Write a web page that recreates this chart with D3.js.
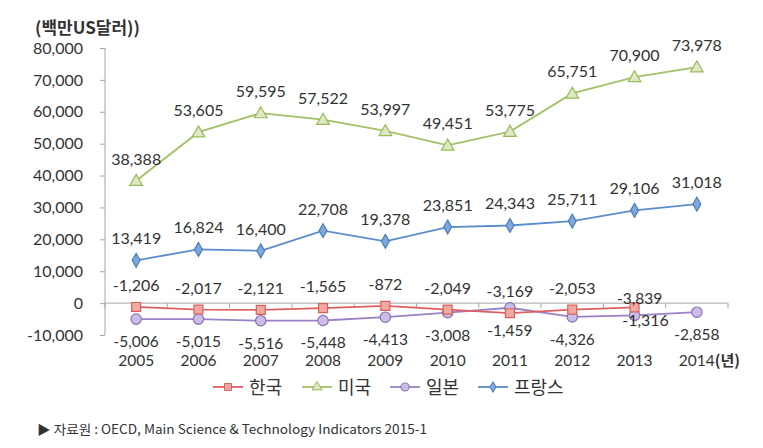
<!DOCTYPE html>
<html><head><meta charset="utf-8">
<script src="https://cdn.jsdelivr.net/npm/d3@7/dist/d3.min.js"></script>
<style>
html,body{margin:0;padding:0;background:#fff;}
svg{display:block;}
</style></head>
<body>
<svg id="chart" width="763" height="448"></svg>
<script>
const years = ["2005","2006","2007","2008","2009","2010","2011","2012","2013","2014"];
const korea = [-1206,-2017,-2121,-1565,-872,-2049,-3169,-2053,-1316,null];
const usa = [38388,53605,59595,57522,53997,49451,53775,65751,70900,73978];
const japan = [-5006,-5015,-5516,-5448,-4413,-3008,-1459,-4326,-3839,-2858];
const france = [13419,16824,16400,22708,19378,23851,24343,25711,29106,31018];
const yTicks = [80000,70000,60000,50000,40000,30000,20000,10000,0,-10000];
const seriesNames = ["한국","미국","일본","프랑스"];

const svg = d3.select("#chart");
const numFont = "Lato, 'Noto Sans', sans-serif";
const krFont = "'Noto Sans CJK KR', 'Noto Sans', sans-serif";
const textColor = "#333";
const axisColor = "#a6a6a6";

const x = d3.scaleBand().domain(years).range([105,728]);
const y = d3.scaleLinear().domain([-10000,80000]).range([335,48]);
const cx = d => x(d) + x.bandwidth()/2;
const locale = d3.formatLocale({decimal:".", thousands:",", grouping:[3], currency:["",""], minus:"-"});
const fmt = locale.format(",");

// Title
svg.append("text").attr("x",35).attr("y",34).attr("font-family",krFont)
  .attr("font-size",17).attr("font-weight","bold").attr("fill",textColor).text("(백만US달러))");

// Y axis
const yAxis = d3.axisLeft(y).tickValues(yTicks).tickSize(5).tickFormat(fmt);
const gy = svg.append("g").attr("transform","translate(105,0)").call(yAxis);
gy.select(".domain").attr("stroke",axisColor).attr("d","M0,"+y(80000)+"V"+y(-10000));
gy.selectAll(".tick line").attr("stroke",axisColor);
gy.selectAll(".tick text").attr("font-family",numFont).attr("font-size",16)
  .attr("fill",textColor).attr("x",-22);

// X axis along zero
const gx = svg.append("g");
gx.append("line").attr("x1",105).attr("x2",728).attr("y1",y(0)).attr("y2",y(0))
  .attr("stroke",axisColor);
const bounds = years.map(d=>x(d)).concat([x(years[years.length-1])+x.bandwidth()]);
gx.selectAll("line.tk").data(bounds).enter().append("line").attr("class","tk")
  .attr("x1",d=>d).attr("x2",d=>d).attr("y1",y(0)).attr("y2",y(0)+5).attr("stroke",axisColor);

// Year labels
years.forEach((yr,i)=>{
  const t = svg.append("text").attr("x",cx(yr)).attr("y",366).attr("text-anchor","middle")
    .attr("font-family",numFont).attr("font-size",15.5).attr("fill",textColor).text(yr);
  if(i===years.length-1){
    const w = t.node().getComputedTextLength();
    svg.append("text").attr("x",cx(yr)+w/2).attr("y",366).attr("font-family",krFont)
      .attr("font-size",15).attr("font-weight","bold").attr("fill",textColor).text("(년)");
  }
});

const styles = [
  {data:korea, line:"#e0605f", fill:"#f2a9a4", stroke:"#d9605a", shape:d3.symbolSquare, size:80, pos:"above"},
  {data:usa, line:"#a3c169", fill:"#dde8c4", stroke:"#9bbb59", shape:d3.symbolTriangle, size:70, pos:"above"},
  {data:japan, line:"#9a82c6", fill:"#cbbde6", stroke:"#8a6fb8", shape:d3.symbolCircle, size:85, pos:"below"},
  {data:france, line:"#5b8ccc", fill:"#7ea7dc", stroke:"#4a7ebb", shape:d3.symbolDiamond, size:55, pos:"above"}
];

const lineGen = d3.line().defined(d=>d.v!==null).x(d=>cx(d.yr)).y(d=>y(d.v));
const drawOrder = [2,0,3,1];
drawOrder.forEach(si=>{
  const s = styles[si];
  const pts = years.map((yr,i)=>({yr, v:s.data[i], i}));
  svg.append("path").datum(pts).attr("d",lineGen).attr("fill","none")
    .attr("stroke",s.line).attr("stroke-width",1.8);
  svg.selectAll(null).data(pts.filter(p=>p.v!==null)).enter().append("path")
    .attr("d",d3.symbol().type(s.shape).size(s.size))
    .attr("transform",p=>`translate(${cx(p.yr)},${y(p.v)+(s.shape===d3.symbolTriangle?1:0)})`)
    .attr("fill",s.fill).attr("stroke",s.stroke).attr("stroke-width",1.2);
});

// Data labels
styles.forEach((s,si)=>{
  years.forEach((yr,i)=>{
    const v = s.data[i];
    if(v===null) return;
    let dx = 0, dy = s.pos==="above" ? -16 : 28;
    // manually moved labels in 2013 for Korea / Japan
    if(si===0 && i===8){ dx = 11; dy = 19; }
    if(si===2 && i===8){ dx = 5; dy = -11; }
    svg.append("text").attr("x",cx(yr)+dx).attr("y",y(v)+dy).attr("text-anchor","middle")
      .attr("font-family",numFont).attr("font-size",s.pos==="below"?15.5:16).attr("fill",textColor).text(fmt(v));
  });
});

// Legend
const legendX = [213,302,390,478];
seriesNames.forEach((n,i)=>{
  const s = styles[i], lx = legendX[i], ly = 387;
  svg.append("line").attr("x1",lx).attr("x2",lx+30).attr("y1",ly).attr("y2",ly)
    .attr("stroke",s.line).attr("stroke-width",1.8);
  svg.append("path").attr("d",d3.symbol().type(s.shape).size(s.size*0.6))
    .attr("transform",`translate(${lx+15},${ly})`).attr("fill",s.fill).attr("stroke",s.stroke).attr("stroke-width",1);
  svg.append("text").attr("x",lx+36).attr("y",ly+7).attr("font-family",krFont)
    .attr("font-size",18).attr("fill",textColor).text(n);
});

// Source
svg.append("text").attr("x",37).attr("y",434).attr("font-family",krFont)
  .attr("font-size",13).attr("fill",textColor)
  .attr("textLength",390).attr("lengthAdjust","spacingAndGlyphs")
  .text("▶ 자료원 : OECD, Main Science & Technology Indicators 2015-1");
</script>
</body></html>
